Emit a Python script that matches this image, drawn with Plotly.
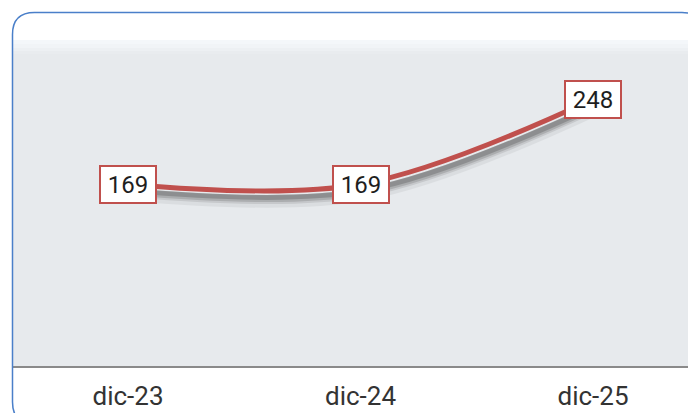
import plotly.graph_objects as go

categories = ["dic-23", "dic-24", "dic-25"]
values = [169, 169, 248]

# page body has an 8px margin; work in window pixels and subtract it
OFF = 8
WIN_W, WIN_H = 696, 413
W, H = WIN_W - OFF, WIN_H - OFF
# plot area in window pixels
PX0, PX1, PY0, PY1 = 12, 696, 40, 366
L, R, T, B = PX0 - OFF, WIN_W - PX1, PY0 - OFF, WIN_H - PY1
PW, PH = PX1 - PX0, PY1 - PY0
x_range = [-0.499, 2.443]
y_range = [0, 303]

def px(x):
    return (x - PX0) / PW

def py(y):
    return (PY1 - y) / PH

xs = list(range(len(categories)))

fig = go.Figure()

# shadow layers
for dy, w, op in [(10, 12, 0.08), (8, 9, 0.14), (7, 7, 0.22), (6, 5, 0.32)]:
    fig.add_trace(go.Scatter(
        x=[x + 0.01 for x in xs], y=[v - dy for v in values],
        mode="lines", line=dict(color="#505050", width=w, shape="spline", smoothing=1),
        opacity=op, hoverinfo="skip", showlegend=False))

fig.add_trace(go.Scatter(
    x=xs, y=values, mode="lines",
    line=dict(color="#c0504d", width=5, shape="spline", smoothing=1),
    showlegend=False))

for x, v in zip(xs, values):
    fig.add_annotation(
        x=x, y=v, text=str(v), showarrow=False,
        font=dict(family="Roboto, Arial, sans-serif", size=24, color="#1e1e1e"),
        bgcolor="#ffffff", bordercolor="#c0504d", borderwidth=2, borderpad=3,
        width=48, height=29)

# top gradient band
bands = [(40, 44, "#f4f7fa"), (44, 48, "#f1f4f7"), (48, 51, "#edf0f3"), (51, 54, "#e9ecef")]
for y0, y1, c in bands:
    fig.add_shape(type="rect", xref="paper", yref="paper",
                  x0=0, x1=1, y0=py(y1), y1=py(y0), fillcolor=c,
                  line=dict(width=0), layer="below")

# rounded border
l, t, r, b, rad = 12.5, 12.5, 704, 424, 22
pts = [
    ("M", l, t + rad), ("Q", l, t, l + rad, t), ("L", r - rad, t),
    ("Q", r, t, r, t + rad), ("L", r, b - rad), ("Q", r, b, r - rad, b),
    ("L", l + rad, b), ("Q", l, b, l, b - rad)
]
path = ""
for p in pts:
    cmd = p[0]
    coords = p[1:]
    segs = []
    for i in range(0, len(coords), 2):
        segs.append(f"{px(coords[i]):.5f},{py(coords[i+1]):.5f}")
    path += cmd + " " + " ".join(segs) + " "
path += "Z"
fig.add_shape(type="path", xref="paper", yref="paper", path=path,
              line=dict(color="#4a7fc9", width=1.5), fillcolor="rgba(0,0,0,0)")

fig.update_layout(
    width=W, height=H,
    margin=dict(l=L, r=R, t=T, b=B),
    paper_bgcolor="#ffffff", plot_bgcolor="#e7eaed",
    xaxis=dict(range=x_range, tickvals=xs, ticktext=categories,
               showgrid=False, zeroline=False, showline=True,
               linecolor="#8a8a8a", linewidth=2, ticks="",
               ticklabelstandoff=6,
               tickfont=dict(family="Roboto, Arial, sans-serif", size=26, color="#333333")),
    yaxis=dict(range=y_range, visible=False, showgrid=False, zeroline=False),
)

fig.write_html("out.html")
